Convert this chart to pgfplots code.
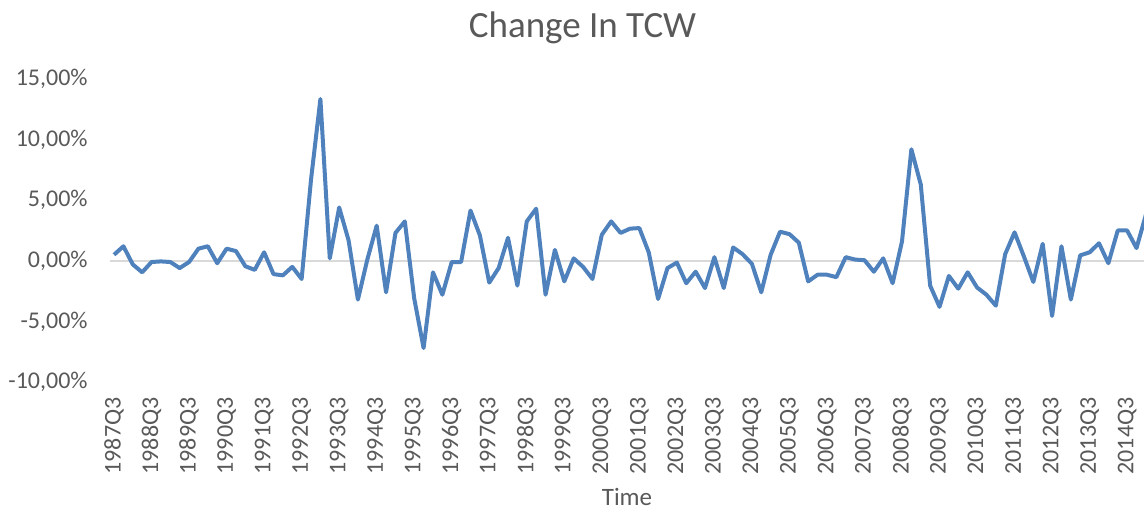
\documentclass[border=0pt]{standalone}
\usepackage{fontspec}
\setmainfont{Carlito}
\usepackage{pgfplots}
\usepackage{pgfplotstable}
\pgfplotsset{compat=1.18}

\definecolor{xlblue}{RGB}{79,129,189}
\definecolor{xltext}{RGB}{89,89,89}
\definecolor{xlgrid}{RGB}{217,217,217}

% change in ln TCW, quarterly from 1987Q3, in percent
\pgfplotstableread{
q val
0 0.5
1 1.2
2 -0.3
3 -0.95
4 -0.1
5 -0.05
6 -0.1
7 -0.6
8 -0.1
9 1.0
10 1.2
11 -0.2
12 1.0
13 0.8
14 -0.45
15 -0.75
16 0.7
17 -1.1
18 -1.2
19 -0.5
20 -1.5
21 6.7
22 13.35
23 0.2
24 4.4
25 1.7
26 -3.2
27 0.1
28 2.9
29 -2.6
30 2.3
31 3.25
32 -3.1
33 -7.2
34 -0.95
35 -2.8
36 -0.1
37 -0.1
38 4.15
39 2.1
40 -1.8
41 -0.6
42 1.9
43 -2.05
44 3.25
45 4.3
46 -2.8
47 0.9
48 -1.7
49 0.2
50 -0.5
51 -1.5
52 2.15
53 3.25
54 2.3
55 2.65
56 2.7
57 0.7
58 -3.15
59 -0.6
60 -0.15
61 -1.85
62 -0.9
63 -2.25
64 0.3
65 -2.25
66 1.1
67 0.55
68 -0.25
69 -2.6
70 0.5
71 2.4
72 2.2
73 1.5
74 -1.7
75 -1.15
76 -1.15
77 -1.35
78 0.3
79 0.1
80 0.05
81 -0.9
82 0.2
83 -1.85
84 1.6
85 9.2
86 6.3
87 -2.05
88 -3.8
89 -1.25
90 -2.3
91 -0.95
92 -2.2
93 -2.8
94 -3.7
95 0.55
96 2.35
97 0.35
98 -1.75
99 1.4
100 -4.55
101 1.2
102 -3.2
103 0.45
104 0.7
105 1.45
106 -0.2
107 2.5
108 2.5
109 1.05
110 3.8
}\tcw

\begin{document}
\begin{tikzpicture}
\useasboundingbox (-55pt,-65.5pt) rectangle (517pt,191pt);
\begin{axis}[
    at={(0,0)}, anchor=south west,
    width=517pt, height=151.5pt,
    scale only axis,
    xmin=-0.43, xmax=109.8,
    ymin=-10, ymax=15,
    axis line style={draw=none},
    major tick style={draw=none},
    xtick={0,4,...,108},
    xticklabels={1987Q3,1988Q3,1989Q3,1990Q3,1991Q3,1992Q3,1993Q3,1994Q3,1995Q3,1996Q3,1997Q3,1998Q3,1999Q3,2000Q3,2001Q3,2002Q3,2003Q3,2004Q3,2005Q3,2006Q3,2007Q3,2008Q3,2009Q3,2010Q3,2011Q3,2012Q3,2013Q3,2014Q3},
    xticklabel style={rotate=90, anchor=east, inner sep=0pt, font=\fontsize{12}{14}\selectfont, text=xltext},
    xticklabel shift=7.5pt,
    ytick={-10,-5,0,5,10,15},
    yticklabels={{-10,00\%},{-5,00\%},{0,00\%},{5,00\%},{10,00\%},{15,00\%}},
    yticklabel style={anchor=east, inner sep=0pt, font=\fontsize{12}{14}\selectfont, text=xltext},
    yticklabel shift=11pt,
    extra y ticks={0},
    extra y tick labels={},
    extra y tick style={grid=major, major grid style={draw=xlgrid, line width=0.75pt}},
    title={Change In TCW},
    title style={at={(axis description cs:0.457,1)}, anchor=center, yshift=19.5pt, font=\fontsize{18.5}{22}\selectfont, text=xltext},
    xlabel={Time},
    xlabel style={at={(axis description cs:0.5,0)}, anchor=center, yshift=-57.5pt, font=\fontsize{12.5}{15}\selectfont, text=xltext},
]
\addplot[xlblue, line width=2pt, line join=round, mark=none] table[x=q, y=val] {\tcw};
\end{axis}
\end{tikzpicture}
\end{document}
